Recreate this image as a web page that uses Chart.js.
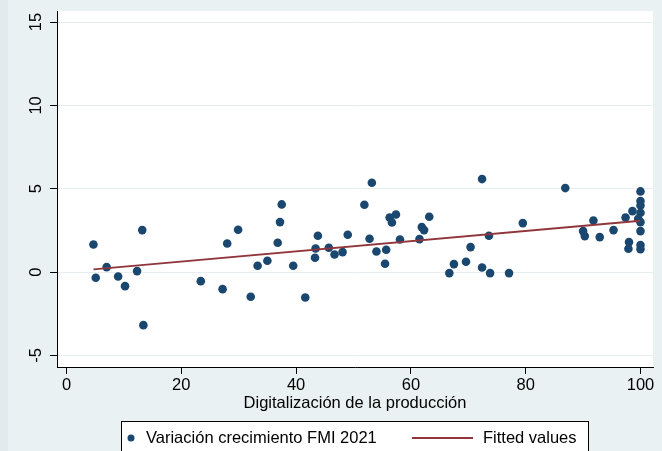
<!DOCTYPE html>
<html>
<head>
<meta charset="utf-8">
<script src="https://cdn.jsdelivr.net/npm/chart.js@4"></script>
<style>
  html, body { margin: 0; padding: 0; background: #eaf1f3; }
  canvas { display: block; }
</style>
</head>
<body>
<canvas id="chart" width="662" height="451"></canvas>
<script>
// datos
var digitalizacion = [4.7, 5.1, 7.0, 9.0, 10.2, 12.3, 13.2, 13.4, 23.4, 27.2,
    28.0, 29.9, 32.1, 33.3, 35.0, 36.8, 37.2, 37.5, 39.5, 41.6,
    43.3, 43.4, 43.8, 45.7, 46.7, 48.1, 49.0, 51.9, 52.8, 53.2,
    54.0, 55.5, 55.7, 56.3, 56.7, 57.4, 58.1, 61.5, 61.9, 62.3,
    63.2, 66.7, 67.5, 69.6, 70.4, 72.4, 72.4, 73.6, 73.8, 77.1,
    79.5, 86.9, 90.0, 90.3, 91.8, 92.9, 95.3, 97.4, 98.0, 97.9,
    98.6, 100, 100, 100, 100, 99.6, 100, 100, 100, 100];
var variacion = [1.66, -0.34, 0.30, -0.26, -0.84, 0.06, 2.52, -3.18, -0.54, -1.02,
    1.72, 2.54, -1.48, 0.38, 0.68, 1.76, 3.0, 4.06, 0.38, -1.52,
    0.86, 1.42, 2.18, 1.46, 1.06, 1.2, 2.24, 4.04, 2.0, 5.36,
    1.24, 0.5, 1.34, 3.28, 2.98, 3.46, 1.96, 1.98, 2.7, 2.52,
    3.32, -0.06, 0.48, 0.62, 1.5, 5.58, 0.28, 2.18, -0.06, -0.06,
    2.94, 5.04, 2.46, 2.16, 3.1, 2.1, 2.52, 3.28, 1.8, 1.4,
    3.66, 4.84, 4.26, 4.0, 3.56, 3.2, 3.0, 2.46, 1.62, 1.38];
var ajusteX = [4.7, 100];
var ajusteY = [0.16, 3.08];
var xTicks = [0, 20, 40, 60, 80, 100];
var yTicks = [-5, 0, 5, 10, 15];
var tituloX = 'Digitalización de la producción';
var nombreSerie = 'Variación crecimiento FMI 2021';
var nombreAjuste = 'Fitted values';

var FUENTE = '"Liberation Sans", Arial, sans-serif';
var TAM = 16.5;
var AZUL = '#1a476f';
var GRANATE = '#90353b';

var puntos = digitalizacion.map((x, i) => ({ x: x, y: variacion[i] }));
var recta = ajusteX.map((x, i) => ({ x: x, y: ajusteY[i] }));

var fondo = {
    id: 'fondo',
    beforeDraw(chart) {
        var ctx = chart.ctx;
        var a = chart.chartArea;
        ctx.save();
        ctx.fillStyle = '#eaf1f3';
        ctx.fillRect(0, 0, chart.width, chart.height);
        ctx.fillStyle = '#e2eaed';
        ctx.fillRect(0, 0, 8, chart.height);
        ctx.fillStyle = '#ffffff';
        ctx.fillRect(a.left, a.top, a.right - a.left, a.bottom - a.top);
        ctx.restore();
    }
};

var etiquetasY = {
    id: 'etiquetasY',
    afterDraw(chart) {
        var ctx = chart.ctx;
        var y = chart.scales.y;
        ctx.save();
        ctx.font = TAM + 'px ' + FUENTE;
        ctx.fillStyle = '#000';
        ctx.textAlign = 'center';
        ctx.textBaseline = 'alphabetic';
        yTicks.forEach(v => {
            ctx.save();
            ctx.translate(41, y.getPixelForValue(v));
            ctx.rotate(-Math.PI / 2);
            ctx.fillText(String(v), 0, 0);
            ctx.restore();
        });
        ctx.restore();
    }
};

var leyenda = {
    id: 'leyenda',
    afterDraw(chart) {
        var ctx = chart.ctx;
        ctx.save();
        ctx.fillStyle = '#ffffff';
        ctx.fillRect(121.5, 421.5, 467, 40);
        ctx.strokeStyle = '#000';
        ctx.lineWidth = 1;
        ctx.strokeRect(121.5, 421.5, 467, 40);

        ctx.fillStyle = AZUL;
        ctx.beginPath();
        ctx.arc(131, 438, 3.5, 0, Math.PI * 2);
        ctx.fill();

        ctx.strokeStyle = GRANATE;
        ctx.lineWidth = 2;
        ctx.beginPath();
        ctx.moveTo(412, 438);
        ctx.lineTo(473, 438);
        ctx.stroke();

        ctx.font = TAM + 'px ' + FUENTE;
        ctx.fillStyle = '#000';
        ctx.textBaseline = 'middle';
        ctx.textAlign = 'left';
        ctx.fillText(nombreSerie, 146, 438);
        ctx.fillText(nombreAjuste, 483, 438);
        ctx.restore();
    }
};

var chart = new Chart(document.getElementById('chart'), {
    type: 'scatter',
    data: {
        datasets: [
            {
                type: 'line',
                label: nombreAjuste,
                data: recta,
                borderColor: GRANATE,
                borderWidth: 1.8,
                pointRadius: 0,
                fill: false
            },
            {
                label: nombreSerie,
                data: puntos,
                backgroundColor: AZUL,
                borderWidth: 0,
                pointRadius: 4.3
            }
        ]
    },
    options: {
        responsive: false,
        animation: false,
        devicePixelRatio: 1,
        layout: { padding: { top: 11, right: 9, left: 0, bottom: 0 } },
        plugins: {
            legend: { display: false },
            tooltip: { enabled: false }
        },
        scales: {
            x: {
                type: 'linear',
                position: 'bottom',
                min: -1.65,
                max: 102.18,
                afterBuildTicks: s => { s.ticks = xTicks.map(v => ({ value: v })); },
                afterFit: s => { s.height = 84; },
                grid: { drawOnChartArea: false, tickLength: 7, tickColor: '#000', tickWidth: 1 },
                border: { color: '#000', width: 1 },
                ticks: { color: '#000', font: { family: FUENTE, size: TAM }, padding: 2, maxRotation: 0 },
                title: {
                    display: true,
                    text: tituloX,
                    color: '#000',
                    font: { family: FUENTE, size: TAM },
                    padding: { top: 0, bottom: 38 }
                }
            },
            y: {
                type: 'linear',
                min: -5.69,
                max: 15.66,
                afterBuildTicks: s => { s.ticks = yTicks.map(v => ({ value: v })); },
                afterFit: s => { s.width = 57; },
                grid: { color: '#e6eef0', lineWidth: 1, tickLength: 7, tickColor: '#000', tickWidth: 1 },
                border: { color: '#000', width: 1 },
                ticks: { display: false }
            }
        }
    },
    plugins: [fondo, etiquetasY, leyenda]
});
</script>
</body>
</html>
